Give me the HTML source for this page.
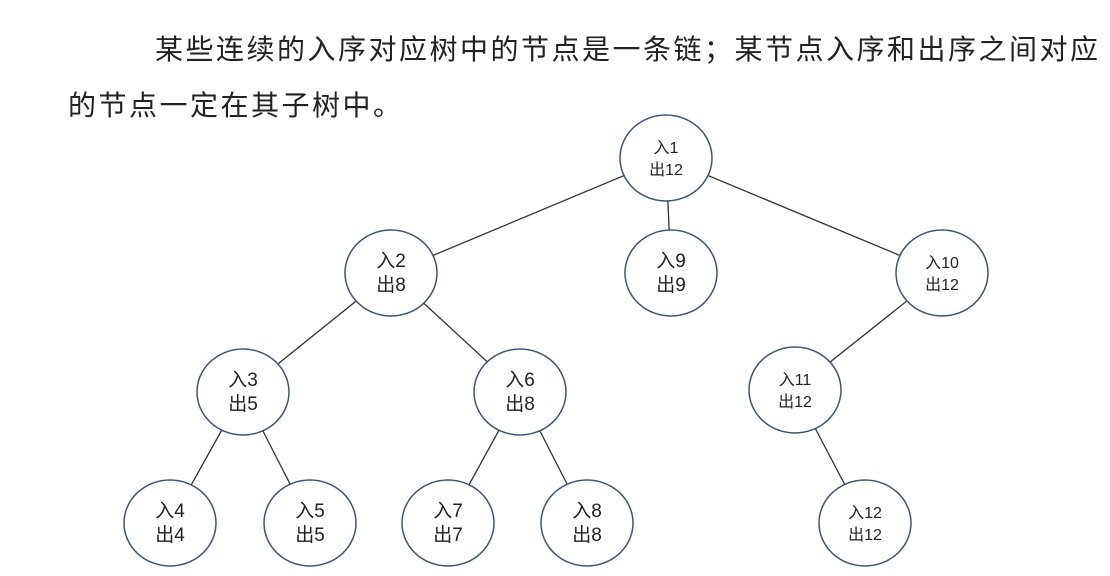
<!DOCTYPE html>
<html><head><meta charset="utf-8"><style>
body{margin:0;background:#fff;width:1110px;height:576px;overflow:hidden}
.t{position:absolute;font-family:"Liberation Sans","Noto Sans CJK SC",sans-serif;font-size:28px;letter-spacing:2.5px;color:#222;white-space:nowrap}
</style></head><body>
<div class="t" style="left:155px;top:28px">某些连续的入序对应树中的节点是一条链；某节点入序和出序之间对应</div>
<div class="t" style="left:68px;top:84px">的节点一定在其子树中。</div>
<svg width="1110" height="576" style="position:absolute;left:0;top:0" font-family="Liberation Sans,Noto Sans CJK SC,sans-serif" fill="#222">
<g stroke="#333" stroke-width="1.3">
<line x1="666" y1="158" x2="391" y2="273"/><line x1="666" y1="158" x2="671" y2="273"/><line x1="666" y1="158" x2="942" y2="273"/>
<line x1="391" y1="273" x2="243" y2="392"/><line x1="391" y1="273" x2="520" y2="392"/>
<line x1="942" y1="273" x2="795" y2="390"/>
<line x1="243" y1="392" x2="170" y2="523"/><line x1="243" y1="392" x2="310" y2="523"/>
<line x1="520" y1="392" x2="448" y2="523"/><line x1="520" y1="392" x2="587" y2="523"/>
<line x1="795" y1="390" x2="865" y2="523"/>
</g>
<g fill="#fff" stroke="#3e5570" stroke-width="1.5">
<ellipse cx="666" cy="158" rx="46" ry="43"/><ellipse cx="391" cy="273" rx="46" ry="43"/><ellipse cx="671" cy="273" rx="46" ry="43"/><ellipse cx="942" cy="273" rx="46" ry="43"/>
<ellipse cx="243" cy="392" rx="46" ry="43"/><ellipse cx="520" cy="392" rx="46" ry="43"/><ellipse cx="795" cy="390" rx="46" ry="43"/>
<ellipse cx="170" cy="523" rx="46" ry="43"/><ellipse cx="310" cy="523" rx="46" ry="43"/><ellipse cx="448" cy="523" rx="46" ry="43"/><ellipse cx="587" cy="523" rx="46" ry="43"/><ellipse cx="865" cy="523" rx="46" ry="43"/>
</g>
<g text-anchor="middle" font-size="19">
<text x="391" y="267">入2</text><text x="391" y="291">出8</text>
<text x="671" y="267">入9</text><text x="671" y="291">出9</text>
<text x="243" y="386">入3</text><text x="243" y="410">出5</text>
<text x="520" y="386">入6</text><text x="520" y="410">出8</text>
<text x="170" y="517">入4</text><text x="170" y="541">出4</text>
<text x="310" y="517">入5</text><text x="310" y="541">出5</text>
<text x="448" y="517">入7</text><text x="448" y="541">出7</text>
<text x="587" y="517">入8</text><text x="587" y="541">出8</text>
</g>
<g text-anchor="middle" font-size="16">
<text x="666" y="153">入1</text><text x="666" y="175">出12</text>
<text x="942" y="268">入10</text><text x="942" y="290">出12</text>
<text x="795" y="385">入11</text><text x="795" y="407">出12</text>
<text x="865" y="518">入12</text><text x="865" y="540">出12</text>
</g>
</svg>
</body></html>
